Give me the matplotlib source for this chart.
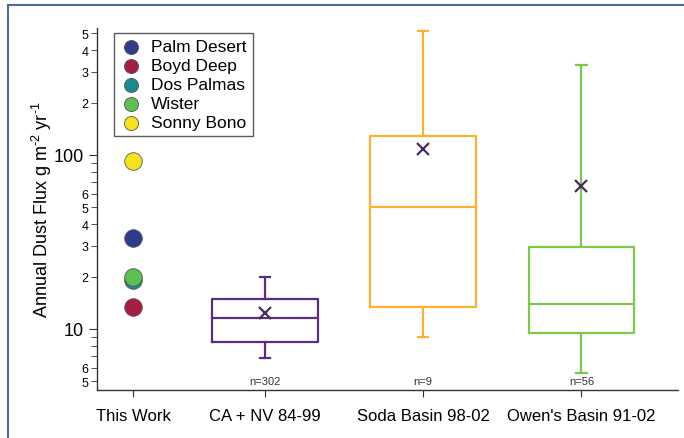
import math
import matplotlib
matplotlib.use("Agg")
import matplotlib.pyplot as plt
from matplotlib.patches import Rectangle
from matplotlib.ticker import FixedLocator, FuncFormatter

plt.rcParams['font.family'] = ['Liberation Sans', 'DejaVu Sans']
plt.rcParams['mathtext.fontset'] = 'custom'
plt.rcParams['mathtext.rm'] = 'Liberation Sans'
plt.rcParams['mathtext.it'] = 'Liberation Sans'

# data
categories = ["This Work", "CA + NV 84-99", "Soda Basin 98-02", "Owen's Basin 91-02"]
site_names = ["Palm Desert", "Boyd Deep", "Dos Palmas", "Wister", "Sonny Bono"]
site_flux = [33.4, 13.4, 19.1, 20.0, 92.7]
site_colors = ["#2f3c8c", "#a81c44", "#1d8a8c", "#5cbf52", "#f5e31c"]

box_labels = ["n=302", "n=9", "n=56"]
box_whislo = [6.8, 9.0, 5.6]
box_q1 = [8.4, 13.4, 9.5]
box_med = [11.5, 50.0, 13.9]
box_q3 = [14.9, 129.0, 29.7]
box_whishi = [19.9, 516.0, 328.0]
box_mean = [12.4, 108.0, 66.0]
box_colors = ["#5b2d7e", "#ffb02e", "#7cc84a"]

positions = [0.0, 1.0, 2.2, 3.4]

fig = plt.figure(figsize=(6.84, 4.39), dpi=100)
ax = fig.add_axes([0.1418, 0.109, 0.849, 0.826])

# figure frame (only left and top edges visible)
fig.patches.append(Rectangle((8 / 684, -0.1), 1.2, 1 - 6 / 439 + 0.1,
                             transform=fig.transFigure, fill=False,
                             edgecolor="#4a6a9c", linewidth=1.5))

for name, val, col in zip(site_names, site_flux, site_colors):
    ax.scatter([positions[0]], [val], s=160, color=col, edgecolor="#555555",
               linewidth=0.6, zorder=3, label=name)

stats = []
for i in range(len(box_labels)):
    stats.append(dict(med=box_med[i], q1=box_q1[i], q3=box_q3[i],
                      whislo=box_whislo[i], whishi=box_whishi[i],
                      mean=box_mean[i], label=box_labels[i]))

for i, st in enumerate(stats):
    c = box_colors[i]
    ax.bxp([st], positions=[positions[i + 1]], widths=0.8, showmeans=True,
           showfliers=False, manage_ticks=False,
           boxprops=dict(color=c, linewidth=1.6),
           medianprops=dict(color=c, linewidth=1.6),
           whiskerprops=dict(color=c, linewidth=1.6),
           capprops=dict(color=c, linewidth=1.6),
           capwidths=0.08,
           meanprops=dict(marker="x", markeredgecolor="#4b2a62",
                          markersize=8, markeredgewidth=1.6))
    ax.text(positions[i + 1], 5.05, box_labels[i], ha="center", va="center",
            fontsize=8, color="#333333")

ax.set_yscale("log")
ax.set_ylim(4.45, 540)
ax.set_xlim(-0.273, 4.13)

ax.set_xticks(positions)
ax.set_xticklabels(categories, fontsize=12)

ax.yaxis.set_major_locator(FixedLocator([10, 100]))
ax.yaxis.set_major_formatter(FuncFormatter(lambda v, p: "%d" % round(v)))
minor = [m * d for d in (1, 10, 100) for m in range(2, 10)]
ax.yaxis.set_minor_locator(FixedLocator(minor))


def minor_fmt(v, p):
    lead = int(round(v / 10 ** math.floor(math.log10(v) + 1e-9)))
    return str(lead) if lead in (2, 3, 4, 5, 6) else ""


ax.yaxis.set_minor_formatter(FuncFormatter(minor_fmt))
ax.tick_params(axis="y", which="major", labelsize=13, length=6, color="#333333")
ax.tick_params(axis="y", which="minor", labelsize=9, length=4, color="#333333", pad=2)
ax.tick_params(axis="x", length=5, color="#333333", pad=8)

for s in ("top", "right"):
    ax.spines[s].set_visible(False)
for s in ("left", "bottom"):
    ax.spines[s].set_color("#333333")
    ax.spines[s].set_linewidth(1.0)

ax.set_ylabel(r"Annual Dust Flux g m$^{\text{-2}}$ yr$^{\text{-1}}$",
              fontsize=13, labelpad=0)

leg = ax.legend(loc="upper left", bbox_to_anchor=(0.029, 0.985), fontsize=12.5,
                frameon=True, fancybox=False, edgecolor="#333333",
                handletextpad=0.5, borderpad=0.35, labelspacing=0.22,
                handlelength=1.3, borderaxespad=0, markerscale=0.8)
leg.get_frame().set_linewidth(1.0)

fig.savefig("out.png", dpi=100)
